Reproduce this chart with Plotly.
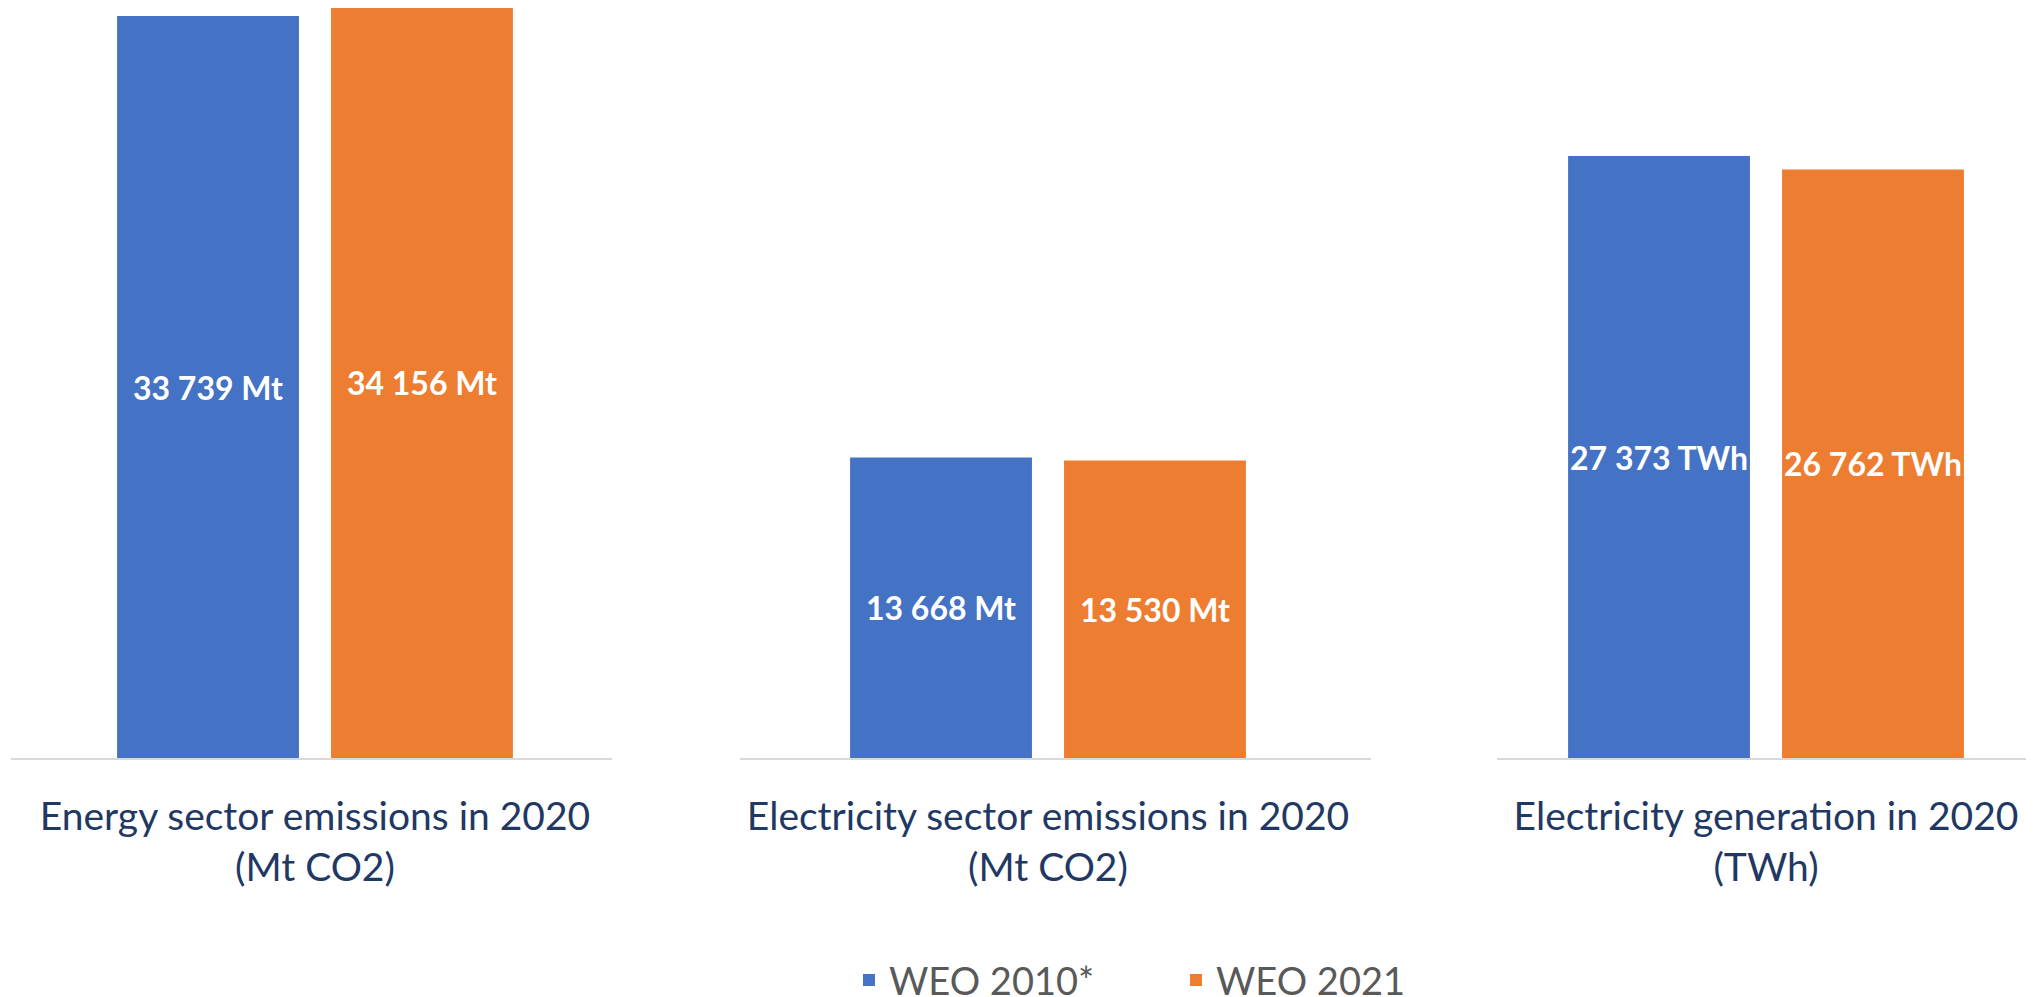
import plotly.graph_objects as go

# ---- data ----
categories = [
    "Energy sector emissions in 2020<br>(Mt CO2)",
    "Electricity sector emissions in 2020<br>(Mt CO2)",
    "Electricity generation in 2020<br>(TWh)",
]
units = ["Mt", "Mt", "TWh"]
series_names = ["WEO 2010*", "WEO 2021"]
weo2010 = [33739, 13668, 27373]
weo2021 = [34156, 13530, 26762]
series_values = [weo2010, weo2021]
colors = ["#4472C4", "#ED7D31"]

# ---- layout geometry (page pixels; page body has an 8px margin) ----
OFF = 8
VS = 1.0231                      # vertical scale of the captured page
W = 2034 - 2 * OFF
H = 1004
axis_px = [(11, 612), (740, 1371), (1497, 2034)]
center_px = [315, 1048, 1766]
unit_px = 601
baseline_px = 753 * VS
px_per_unit = 0.02185 * VS
legend_px = 996


def fx(p):
    return min(max(p - OFF, 0), W)


fig = go.Figure()
for i, cat in enumerate(categories):
    xa = "x" if i == 0 else f"x{i+1}"
    for s, name in enumerate(series_names):
        fig.add_trace(go.Bar(
            x=[cat], y=[series_values[s][i]], name=name,
            marker=dict(color=colors[s], line=dict(width=0)),
            xaxis=xa, yaxis="y", legendgroup=name, showlegend=(i == 0),
            texttemplate="%{y:,.0f} " + units[i],
            textposition="inside", insidetextanchor="middle", textangle=0,
            constraintext="none",
            textfont=dict(family="Lato", size=32, color="white", weight="bold"),
            hoverinfo="skip",
        ))

layout_axes = {}
for i, ((a0, a1), c) in enumerate(zip(axis_px, center_px)):
    key = "xaxis" if i == 0 else f"xaxis{i+1}"
    d0, d1, cc = fx(a0), fx(a1), c - OFF
    layout_axes[key] = dict(
        domain=[d0 / W, d1 / W],
        range=[(d0 - cc) / unit_px, (d1 - cc) / unit_px],
        type="category",
        anchor="y",
        showline=True, linecolor="#D9D9D9", linewidth=2,
        showgrid=False, zeroline=False,
        ticks="outside", ticklen=23, tickcolor="rgba(0,0,0,0)",
        tickfont=dict(family="Lato", size=39, color="#1F3864"),
        fixedrange=True,
    )

base_fig = baseline_px - OFF
ymax = base_fig / px_per_unit

fig.update_layout(
    **layout_axes,
    yaxis=dict(domain=[(H - base_fig) / H, 1], range=[0, ymax], visible=False,
               showgrid=False, zeroline=False, fixedrange=True),
    barmode="group", bargap=0.288, bargroupgap=0.15,
    separators=". ",
    width=W, height=H,
    margin=dict(l=0, r=0, t=0, b=0),
    paper_bgcolor="white", plot_bgcolor="white",
    showlegend=True,
    legend=dict(orientation="h", x=(849 - OFF) / W, xanchor="left",
                y=(H - (legend_px - OFF)) / H, yanchor="middle",
                font=dict(family="Lato", size=38, color="#595959"),
                entrywidth=282, entrywidthmode="pixels",
                bgcolor="rgba(0,0,0,0)"),
    font=dict(family="Lato"),
)

fig.write_html("out.html", config={"displayModeBar": False})
